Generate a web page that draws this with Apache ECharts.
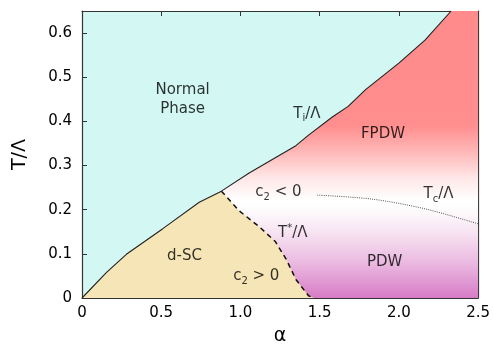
<!DOCTYPE html>
<html>
<head>
<meta charset="utf-8">
<script src="https://cdn.jsdelivr.net/npm/echarts@6/dist/echarts.min.js"></script>
<style>
  html, body { margin: 0; padding: 0; background: #fff; }
  #chart { width: 493px; height: 351px; }
</style>
</head>
<body>
<div id="chart"></div>
<script>
// phase boundaries (alpha, T/Lambda)
const tiAlpha = [0, 0.155, 0.28, 0.51, 0.74, 0.88, 1.055, 1.35, 1.43, 1.58, 1.68, 1.79, 2.0, 2.165, 2.33];
const tiT = [0, 0.058, 0.099, 0.157, 0.217, 0.242, 0.283, 0.345, 0.369, 0.41, 0.434, 0.472, 0.532, 0.584, 0.65];

const tStarAlpha = [0.88, 0.99, 1.12, 1.22, 1.29, 1.35, 1.43, 1.465];
const tStarT = [0.242, 0.198, 0.161, 0.128, 0.087, 0.042, 0.005, 0];

const tcAlpha = [1.485, 1.83, 2.165, 2.5];
const tcT = [0.233, 0.224, 0.202, 0.168];

const regionLabels = ['Normal\nPhase', '{m|T}{s|i}{m|/Λ}', 'FPDW', '{m|c}{s|2}{m| < 0}', '{m|T}{s|c}{m|/Λ}',
  '{m|T}{u|*}{m|/Λ}', 'PDW', '{m|c}{s|2}{m| > 0}', 'd-SC'];
const labelAt = [[0.635, 0.45], [1.42, 0.417], [1.9, 0.372], [1.24, 0.239], [2.25, 0.235],
  [1.33, 0.148], [1.91, 0.081], [1.1, 0.05], [0.647, 0.094]];

const xTicks = ['0', '0.5', '1.0', '1.5', '2.0', '2.5'];
const yTicks = ['0', '0.1', '0.2', '0.3', '0.4', '0.5', '0.6'];

const X_MAX = 2.5, Y_MAX = 0.65;
const font = 'DejaVu Sans';

const pair = (xs, ys) => xs.map((x, i) => [x, ys[i]]);
const tiLine = pair(tiAlpha, tiT);
// d-SC pocket: Ti line up to the kink, then T* line down to the axis
const kink = tiAlpha.indexOf(tStarAlpha[0]);
const scEdge = tiLine.slice(0, kink).concat(pair(tStarAlpha, tStarT));
// PDW / FPDW: everything under the Ti line, closed at the top right corner
const pdwEdge = tiLine.concat([[X_MAX, Y_MAX]]);

const chart = echarts.init(document.getElementById('chart'));

const frameAxis = {
  min: 0,
  axisLine: { show: true, onZero: false, lineStyle: { color: '#333', width: 1.2 } },
  axisTick: { show: true, inside: true, length: 5, lineStyle: { color: '#333' } },
  splitLine: { show: false },
};

chart.setOption({
  animation: false,
  grid: {
    left: 82, right: 13, top: 11, bottom: 49,
    show: true, backgroundColor: '#d3f7f2', borderWidth: 0,
  },
  xAxis: [
    {
      ...frameAxis, type: 'value', max: X_MAX, interval: 0.5, position: 'bottom',
      axisLabel: {
        fontFamily: font, fontSize: 15, color: '#000', margin: 8,
        formatter: (v) => xTicks[Math.round(v / 0.5)],
      },
      name: 'α', nameLocation: 'middle', nameGap: 29,
      nameTextStyle: { fontFamily: font, fontSize: 19, color: '#000' },
    },
    {
      ...frameAxis, type: 'value', max: X_MAX, interval: 0.5, position: 'top',
      axisLabel: { show: false },
    },
  ],
  yAxis: [
    {
      ...frameAxis, type: 'value', max: Y_MAX, interval: 0.1, position: 'left',
      axisLabel: {
        fontFamily: font, fontSize: 15, color: '#000', margin: 10, showMaxLabel: false,
        formatter: (v) => yTicks[Math.round(v / 0.1)] || '',
      },
      name: 'T/Λ', nameLocation: 'middle', nameGap: 52, nameRotate: 90,
      nameTextStyle: { fontFamily: font, fontSize: 19, color: '#000' },
    },
    {
      ...frameAxis, type: 'value', max: Y_MAX, interval: 0.1, position: 'right',
      axisLabel: { show: false },
    },
  ],
  series: [
    {
      name: 'pdw', type: 'line', data: pdwEdge, symbol: 'none', silent: true,
      lineStyle: { width: 0 },
      areaStyle: {
        opacity: 1,
        color: new echarts.graphic.LinearGradient(0, 0, 0, 1, [
          { offset: 0, color: '#ff8b8b' },
          { offset: 0.4, color: '#ff8e8e' },
          { offset: 0.5, color: '#ffbcbc' },
          { offset: 0.58, color: '#ffe6e6' },
          { offset: 0.66, color: '#ffffff' },
          { offset: 0.7, color: '#fefafc' },
          { offset: 0.78, color: '#f6e0f0' },
          { offset: 0.88, color: '#eab8e0' },
          { offset: 1, color: '#d77cc6' },
        ]),
      },
    },
    {
      name: 'dsc', type: 'line', data: scEdge, symbol: 'none', silent: true,
      lineStyle: { width: 0 },
      areaStyle: { opacity: 1, color: '#f6e5b6' },
    },
    {
      name: 'Ti', type: 'line', data: tiLine, symbol: 'none', silent: true,
      lineStyle: { color: '#222', width: 1.1 },
    },
    {
      name: 'Tstar', type: 'line', data: pair(tStarAlpha, tStarT), symbol: 'none', silent: true,
      lineStyle: { color: '#111', width: 1.5, type: [5, 4] },
    },
    {
      name: 'Tc', type: 'line', data: pair(tcAlpha, tcT), symbol: 'none', silent: true,
      smooth: 0.3,
      lineStyle: { color: '#555', width: 1, type: [1, 1.2] },
    },
    {
      name: 'labels', type: 'scatter', symbolSize: 0, silent: true, z: 20,
      data: labelAt.map((p, i) => ({ value: p, text: regionLabels[i] })),
      labelLayout: { hideOverlap: false },
      label: {
        show: true, position: 'inside',
        formatter: (p) => p.data.text,
        fontFamily: font, fontSize: 15, color: '#000', lineHeight: 19, align: 'center',
        rich: {
          m: { fontFamily: font, fontSize: 15, color: '#000', lineHeight: 19 },
          s: { fontFamily: font, fontSize: 10, color: '#000', lineHeight: 19, padding: [10, 0, 0, 0] },
          u: { fontFamily: font, fontSize: 10, color: '#000', lineHeight: 19, padding: [0, 0, 9, 0] },
        },
      },
    },
  ],
});
</script>
</body>
</html>
